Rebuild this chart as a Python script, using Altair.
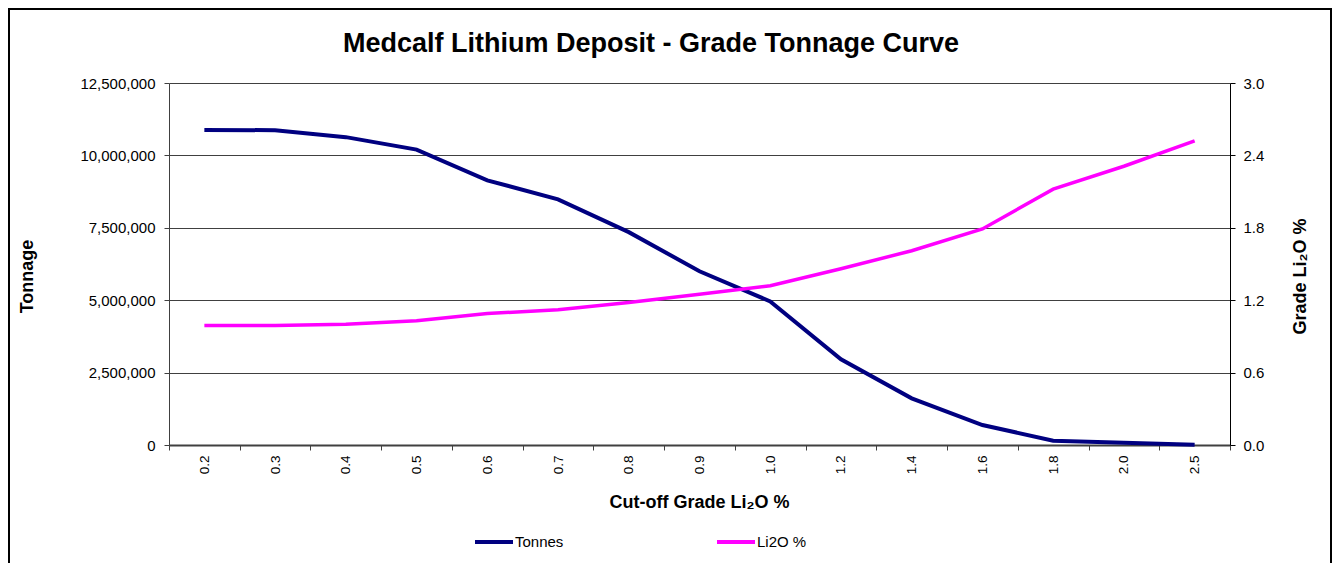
import altair as alt
import pandas as pd

TITLE = "Medcalf Lithium Deposit - Grade Tonnage Curve"
cutoff = ["0.2", "0.3", "0.4", "0.5", "0.6", "0.7", "0.8", "0.9", "1.0",
          "1.2", "1.4", "1.6", "1.8", "2.0", "2.5"]
tonnes = [10880000, 10870000, 10630000, 10200000, 9140000, 8480000, 7350000,
          6000000, 4960000, 2960000, 1610000, 690000, 150000, 80000, 10000]
li2o = [0.99, 0.99, 1.00, 1.03, 1.09, 1.12, 1.18, 1.25, 1.32, 1.46, 1.61,
        1.79, 2.12, 2.31, 2.52]
series_names = ["Tonnes", "Li2O %"]
series_colors = ["#000080", "#FF00FF"]
left_ticks = [0, 2500000, 5000000, 7500000, 10000000, 12500000]
right_ticks = [0.0, 0.6, 1.2, 1.8, 2.4, 3.0]

FONT = "Liberation Sans"

df_t = pd.DataFrame({"cutoff": cutoff, "value": tonnes, "series": series_names[0]})
df_g = pd.DataFrame({"cutoff": cutoff, "value": li2o, "series": series_names[1]})

x_enc = alt.X(
    "cutoff:O",
    sort=cutoff,
    bandPosition=0.5,
    scale=alt.Scale(type="band", paddingInner=0, paddingOuter=0),
    axis=alt.Axis(
        title="Cut-off Grade Li₂O %",
        titleFontSize=18, titleFontWeight="bold", titleFont=FONT, titleColor="black",
        titleX=530, titleY=57, titleAlign="center", titleBaseline="middle",
        labelAngle=270, labelFontSize=13.5, labelFont=FONT, labelColor="black",
        labelPadding=5, tickBand="extent", tickSize=5, tickColor="#404040",
        domainColor="#404040", domainWidth=2, grid=False,
    ),
)

legend = alt.Legend(
    orient="none", legendX=304, legendY=438, direction="horizontal", title=None,
    symbolType="stroke", symbolSize=1444, symbolStrokeWidth=4,
    labelFontSize=15, labelFont=FONT, labelColor="black", labelOffset=0,
    columnPadding=145,
)
color_enc = alt.Color(
    "series:N",
    scale=alt.Scale(domain=series_names, range=series_colors),
    legend=legend,
)

line_t = alt.Chart(df_t).mark_line(strokeWidth=4).encode(
    x=x_enc,
    y=alt.Y(
        "value:Q",
        scale=alt.Scale(domain=[0, 12500000], nice=False),
        axis=alt.Axis(
            orient="left", values=left_ticks, format=",.0f",
            labelFontSize=15, labelFont=FONT, labelColor="black", labelPadding=9,
            tickSize=5, tickColor="#404040", domainColor="#404040",
            grid=True, gridColor="#404040", gridWidth=1,
            title="Tonnage", titleFontSize=18, titleFontWeight="bold", titleFont=FONT,
            titleColor="black", titleX=-142, titleY=193, titleAngle=270,
            titleAlign="center", titleBaseline="middle",
        ),
    ),
    color=color_enc,
)

line_g = alt.Chart(df_g).mark_line(strokeWidth=3.5).encode(
    x=x_enc,
    y=alt.Y(
        "value:Q",
        scale=alt.Scale(domain=[0, 3.0], nice=False),
        axis=alt.Axis(
            orient="right", values=right_ticks, format=".1f",
            labelFontSize=15, labelFont=FONT, labelColor="black", labelPadding=8,
            tickSize=5, tickColor="black", domainColor="black",
            grid=False,
            title="Grade Li₂O %", titleFontSize=18, titleFontWeight="bold", titleFont=FONT,
            titleColor="black", titleX=70, titleY=193, titleAngle=270,
            titleAlign="center", titleBaseline="middle",
        ),
    ),
    color=color_enc,
)

frame = alt.Chart(pd.DataFrame({"f": [0]})).mark_rect(
    filled=False, stroke="black", strokeWidth=2
).encode(
    x=alt.value(-160), x2=alt.value(1162), y=alt.value(-74), y2=alt.value(540)
)

title = alt.Chart(pd.DataFrame({"title": [TITLE]})).mark_text(
    font=FONT, fontSize=27, fontWeight="bold", align="center", baseline="middle",
    color="black",
).encode(text="title:N", x=alt.value(482), y=alt.value(-39))

chart = alt.layer(frame, title, line_t, line_g).resolve_scale(
    y="independent"
).properties(
    width=1061, height=362,
    padding={"left": 161, "top": 75, "right": 102, "bottom": 130},
    autosize=alt.AutoSizeParams(type="none"),
    background="white",
).configure_view(stroke=None)

chart.save("out.html", embed_options={"renderer": "svg", "actions": False})
